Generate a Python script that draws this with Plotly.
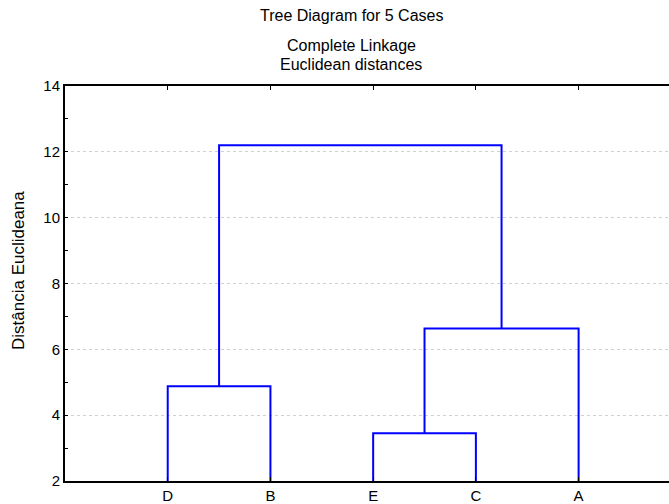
import plotly.graph_objects as go

# Leaf order along the horizontal axis
leaves = ["D", "B", "E", "C", "A"]

# Agglomeration steps: (left member, right member, linkage distance)
merges = [
    ("D", "B", 4.88),
    ("E", "C", 3.45),
    ("E+C", "A", 6.63),
    ("D+B", "E+C+A", 12.20),
]

y_ticks = [2, 4, 6, 8, 10, 12, 14]

# Position / height of each node, starting from the leaves
pos = {name: i + 1 for i, name in enumerate(leaves)}
height = {name: 2.0 for name in leaves}

xs, ys = [], []
for a, b, d in merges:
    xa, xb = pos[a], pos[b]
    xs += [xa, xa, xb, xb, None]
    ys += [height[a], d, d, height[b], None]
    node = a + "+" + b
    pos[node] = (xa + xb) / 2
    height[node] = d

fig = go.Figure()
fig.add_trace(go.Scatter(
    x=xs, y=ys, mode="lines",
    line=dict(color="#0000ff", width=2),
    hoverinfo="skip", showlegend=False,
))

family = "Liberation Sans, Arial, sans-serif"
tick_font = dict(family=family, size=15, color="#000000")
title_font = dict(family=family, size=16, color="#000000")
ytitle_font = dict(family=family, size=17, color="#000000")

ML, MR, MT, MB = 65, 0, 86, 23
W, H = 669, 504
plot_w, plot_h = W - ML - MR, H - MT - MB

fig.update_layout(
    width=W, height=H,
    margin=dict(l=ML, r=MR, t=MT, b=MB),
    paper_bgcolor="white", plot_bgcolor="white",
    font=tick_font,
    showlegend=False,
    xaxis=dict(
        range=[0, 5.88],
        tickvals=list(range(1, len(leaves) + 1)),
        ticktext=leaves,
        ticks="inside", ticklen=4, tickwidth=1, tickcolor="#000000",
        showline=True, linecolor="#000000", linewidth=2, mirror="ticks",
        showgrid=False, zeroline=False,
        tickfont=tick_font,
    ),
    yaxis=dict(
        range=[2, 14],
        tickvals=y_ticks,
        ticks="inside", ticklen=3, tickwidth=1, tickcolor="#000000",
        minor=dict(dtick=1, ticks="inside", ticklen=3, tickcolor="#000000", showgrid=False),
        showline=True, linecolor="#000000", linewidth=2,
        showgrid=True, gridcolor="#d0d0d0", gridwidth=1, griddash="dot",
        zeroline=False,
        tickfont=tick_font,
    ),
)

# Axis title for the distance scale
fig.add_annotation(
    text="Distância Euclideana", xref="paper", yref="paper",
    x=(18 - ML) / plot_w, y=(H - MB - 271) / plot_h,
    xanchor="center", yanchor="middle", textangle=-90,
    showarrow=False, font=ytitle_font,
)

title_x = (351 - ML) / plot_w
titles = [
    ("Tree Diagram for 5 Cases", 16),
    ("Complete Linkage", 46),
    ("Euclidean distances", 65),
]
for text, ypix in titles:
    fig.add_annotation(
        text=text, xref="paper", yref="paper",
        x=title_x, y=1 + (MT - ypix) / plot_h,
        xanchor="center", yanchor="middle",
        showarrow=False, font=title_font,
    )

fig.write_html("out.html")
